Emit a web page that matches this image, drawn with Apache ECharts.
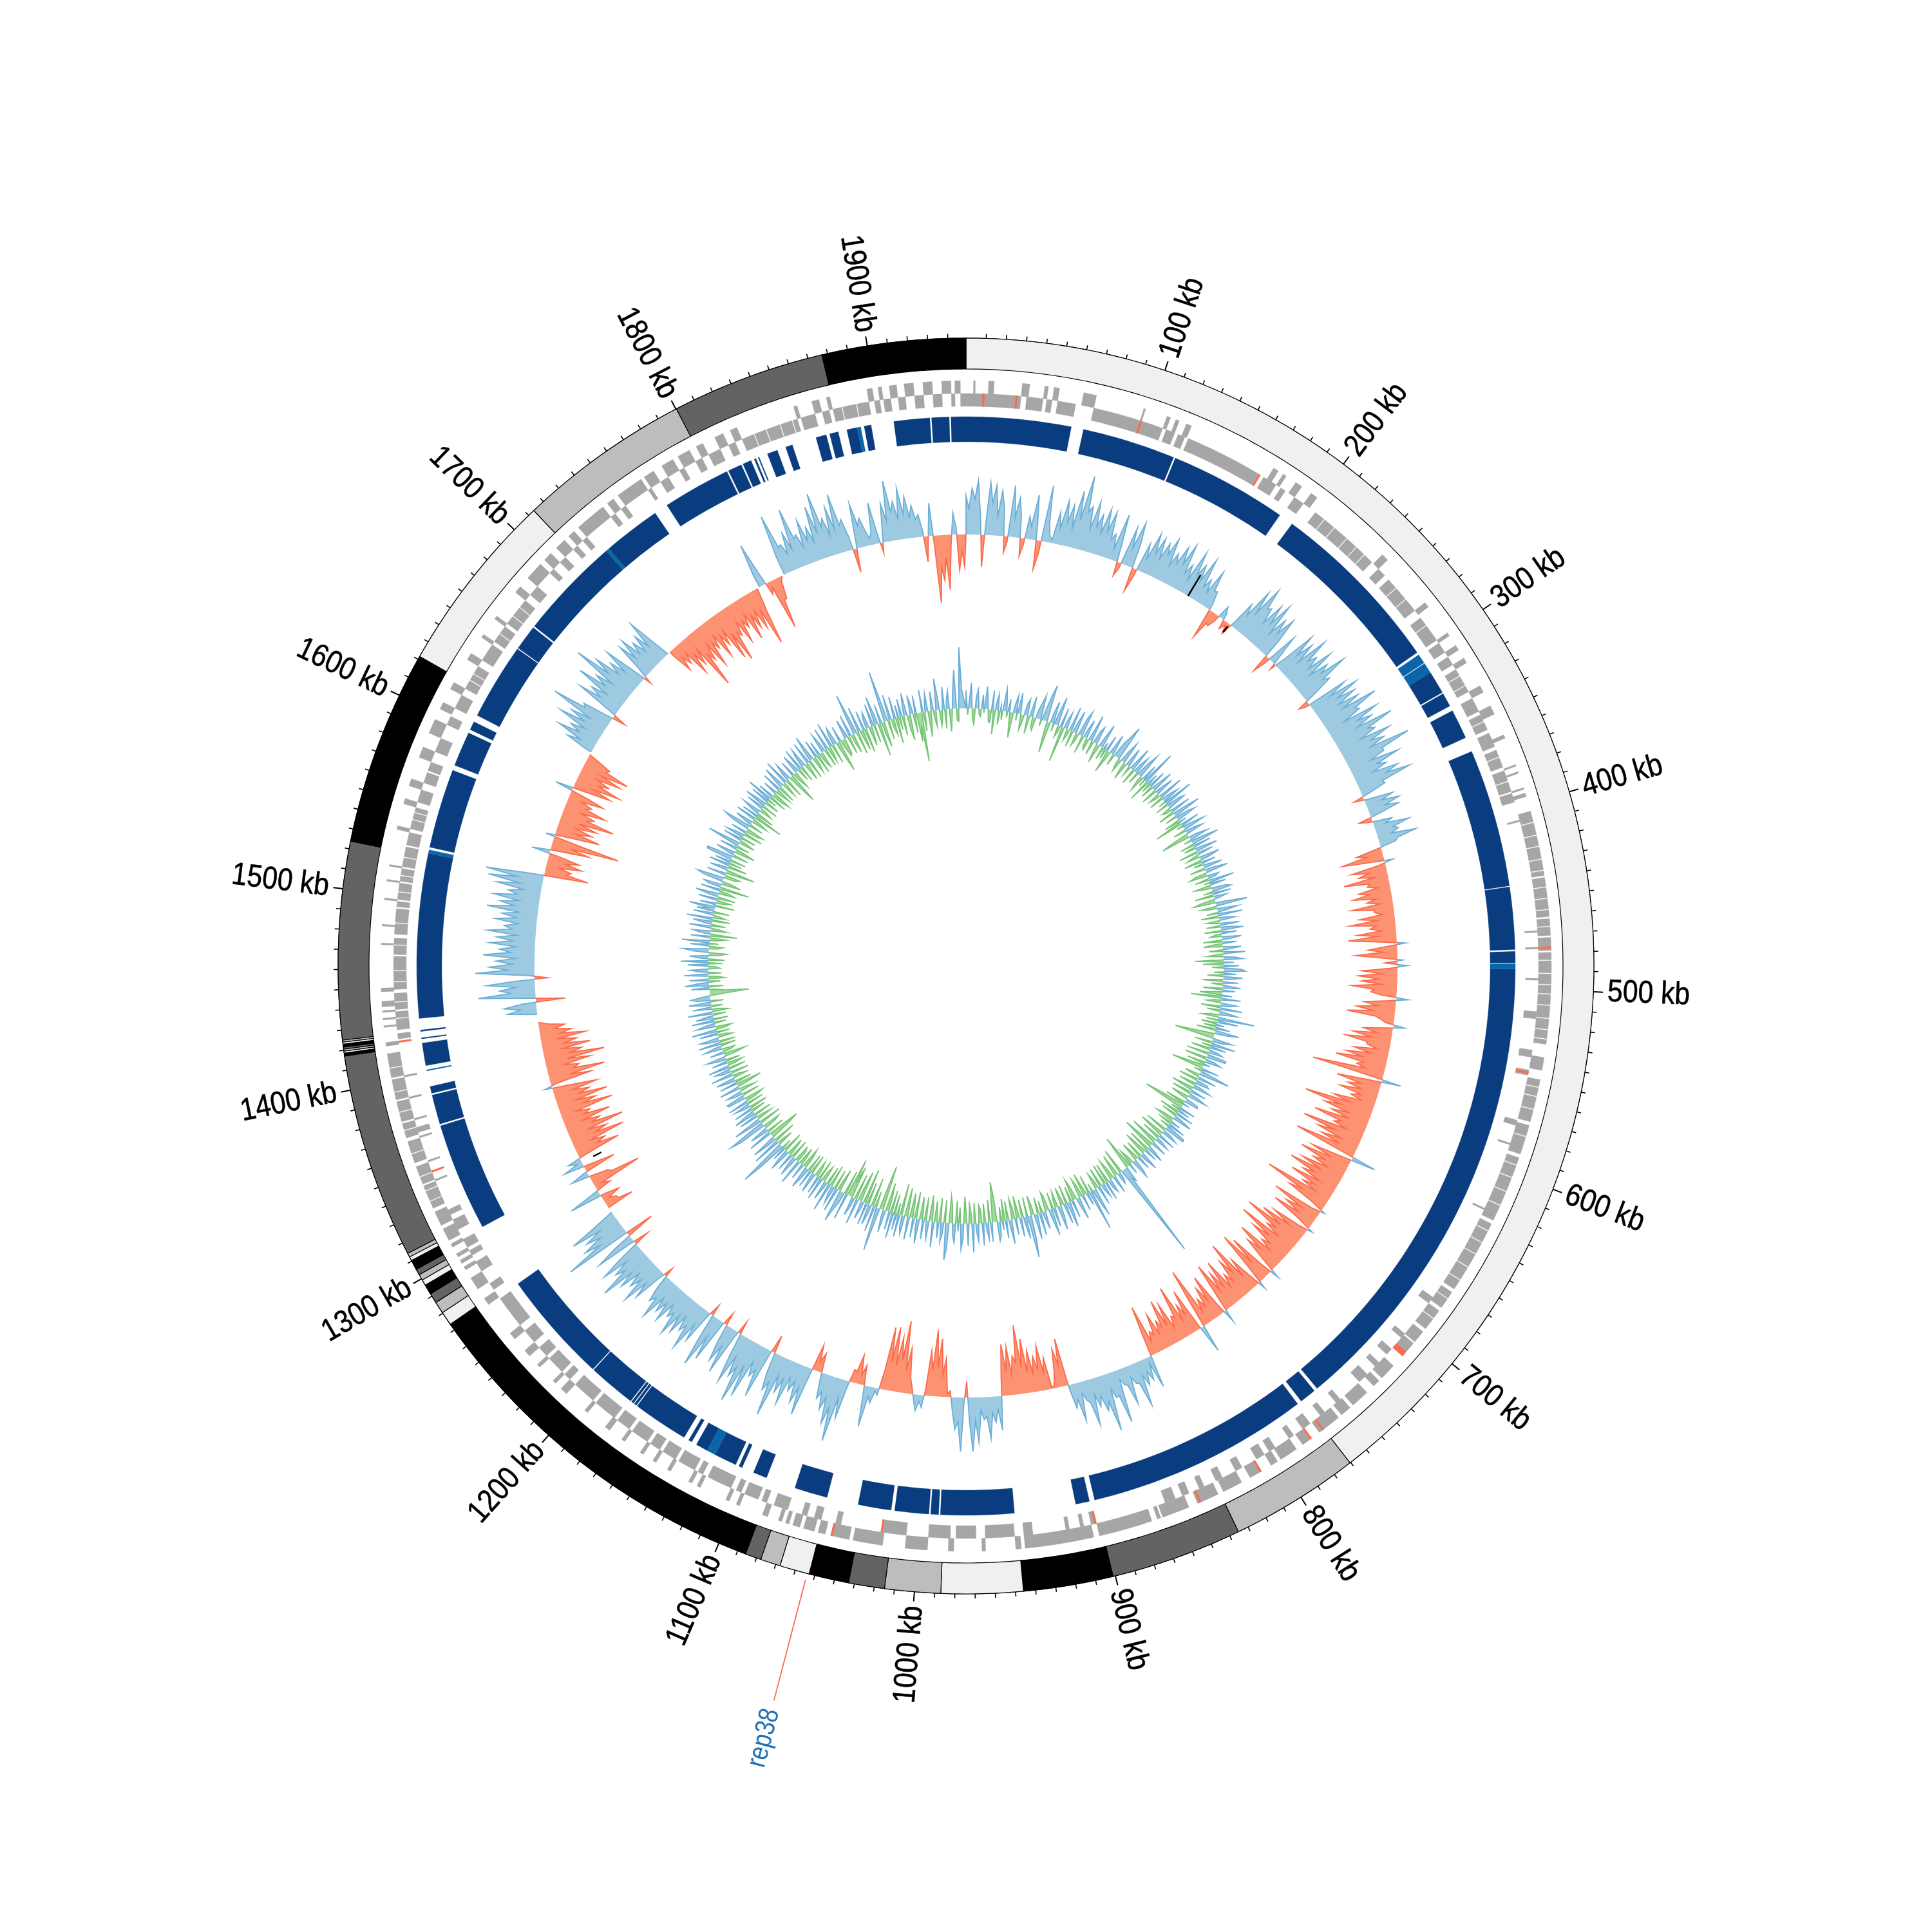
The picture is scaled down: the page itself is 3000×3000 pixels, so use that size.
<!DOCTYPE html>
<html><head><meta charset="utf-8">
<style>html,body{margin:0;padding:0;background:#fff}#c{width:3000px;height:3000px}</style>
<script src="https://cdn.jsdelivr.net/npm/echarts@6/dist/echarts.min.js"></script>
</head><body><div id="c"></div>
<script>
const genomeKb = 1949;
const readingKb = 1953;
const readKb = k => k*genomeKb/readingKb;
const binKb = 2;
const tickLabels = ["100 kb","200 kb","300 kb","400 kb","500 kb","600 kb","700 kb","800 kb","900 kb","1000 kb","1100 kb","1200 kb","1300 kb","1400 kb","1500 kb","1600 kb","1700 kb","1800 kb","1900 kb"];
const tickPositions = [100,200,300,400,500,600,700,800,900,1000,1100,1200,1300,1400,1500,1600,1700,1800,1900];
const ringBreaks = [0,772,837,903,948,989,1017,1035,1055,1070,1080,1088,1276,1283,1289,1294,1299,1302,1305,1308,1313,1315,1317,1420,1421.5,1422.5,1423.5,1424.5,1426,1427,1428,1527,1625,1717,1804,1881,1953];
const ringColors = ["#f0f0f0","#bdbdbd","#636363","#000000"];
const geneOuter = [[4,5],[12,15],[30,34],[42,44],[47,50],[63,70],[96,97],[109,111],[114,116],[120,123],[172,175],[178,180],[186,190],[196,200],[246,250],[280,283],[300,302],[308,311],[316,319],[333,337],[345,350],[362,364],[379,380],[383,384],[392,393],[395,397],
[405,440],[441,462],[463,472],[473,478],[479,480],[481,530],[537,544],[549,572],[574,590],[592,628],[630,670],[672,682],[684,696],[698,705],[706,715],[722,731],[733,737],[742,752],[754,760],[762,775],[781,786],[790,800],[802,806],[812,819],[824,835],[838,850],[855,870],[871,873],[876,905],[908,945],[947,950],
[966,968],[983,986],[997,1009],[1021,1037],[1039,1049],[1052,1056],[1058,1064],[1066,1070],[1072,1074],[1076,1078],[1084,1087],[1100,1102],[1106,1108],[1123,1125],[1128,1130],[1141,1143],[1150,1152],[1158,1160],[1170,1172],[1180,1183],[1195,1197],[1210,1214],[1218,1220],[1230,1232],[1238,1242],[1250,1254],[1273,1277],[1283,1290],[1295,1297],[1299,1301],[1303,1305],[1309,1311],[1313,1320],
[1322,1330],[1332,1345],[1346,1356],[1358,1370],[1372,1380],[1381,1392],[1393,1404],[1405,1418],[1422,1424],[1432,1433],[1436,1437],[1440,1441],[1443,1446],[1451,1453],[1476,1477],[1486,1487],[1500,1501],[1510,1511],[1518,1519],[1538,1540],[1552,1555],[1562,1566],[1578,1584],[1592,1600],[1606,1610],[1618,1622],[1636,1640],[1650,1652],[1662,1664],[1680,1684],[1690,1700],[1703,1708],[1712,1718],[1721,1725],[1728,1745],[1748,1752],[1755,1770],[1772,1778],[1783,1790],[1793,1800],[1804,1808],[1815,1820],[1824,1828],[1860,1862],[1870,1874],[1878,1880],[1900,1903],[1906,1908],[1912,1916],[1920,1925],[1930,1935],[1940,1945],[1947,1950]];
const geneInner = [[0,30],[33,42],[44,47],[50,60],[70,97],[97,109],[111,116],[118,122],[124,167],[170,178],[181,184],[190,196],[204,245],[250,255],[258,280],[285,300],[302,308],[311,316],[319,333],[337,345],[347,356],[358,366],[368,378],[380,392],[393,398],
[408,409],[469,470],[478,479],[495,496],[513,517],[534,538],[545,548],[573,576],[586,587],[624,625],[680,684],[705,708],[716,720],[726,729],[735,741],[755,758],[766,769],[776,781],[787,790],[799,803],[806,811],[820,824],[832,836],[843,846],[852,856],[860,866],[905,908],[912,914],[920,922],[940,945],
[950,966],[971,982],[985,997],[1009,1022],[1045,1048],[1056,1060],[1064,1067],[1075,1083],[1087,1090],[1092,1100],[1102,1105],[1108,1122],[1125,1128],[1130,1140],[1142,1150],[1152,1158],[1160,1170],[1172,1180],[1182,1195],[1197,1210],[1214,1218],[1220,1230],[1232,1238],[1242,1250],[1254,1272],[1278,1282],[1290,1296],[1300,1303],[1305,1310],[1316,1322],[1325,1328],[1345,1346],[1356,1357],[1370,1371],[1373,1376],[1380,1381],[1392,1393],[1404,1405],
[1425,1428],[1430,1440],[1441,1450],[1452,1470],[1471,1480],[1482,1496],[1497,1500],[1501,1510],[1511,1518],[1519,1530],[1531,1538],[1540,1552],[1555,1562],[1566,1572],[1573,1578],[1584,1592],[1600,1605],[1610,1618],[1622,1636],[1640,1650],[1652,1662],[1664,1680],[1684,1690],[1700,1703],[1708,1712],[1718,1721],[1725,1728],[1745,1748],[1752,1755],[1770,1772],[1778,1783],[1790,1793],[1800,1804],[1808,1815],[1820,1824],[1828,1860],[1862,1870],[1874,1878],[1880,1900],[1903,1906],[1908,1912],[1916,1920],[1925,1930],[1935,1940],[1945,1947],[1950,1953]];
const geneAccentOuter = [[478,479],[712,715],[772,773],[780,781],[812,813],[848,849],[1048,1049]];
const geneAccentInner = [[9,10],[27,28],[96,97],[167,168],[546,547],[905,906],[1022,1023],[1350,1351],[1423,1424]];
const geneHairOuter = [411,418,424,431,437,446,452,458,467,485,492,498,503,509,516,522,527,553,558,565,580,596,603,611,619,634,641,648,656,664,676,689,1336,1342,1350,1363,1376,1386,1397,1410];
const geneHairInner = [210,217,226,233,239,264,272,290,323,329,351,372,386,1436,1445,1456,1462,1476,1488,1505,1514,1524,1545,1549,1627,1631,1657,1669,1675,1835,1842,1850,1857,1885,1893];
const cdsDark = [[1912,1932.5],[1933.5,1943.5],[1944.5,1953],[0,60],[67,120.5],[121.5,189],[197.5,299.5],[313,326.2],[327,335],[338,355],[363.5,442.7],[443.3,479],[480,486.5],[490,761],[763,772.5],[775,903],[906,914],[949,991],[992,996.5],[997.5,1017],[1019,1038],[1056,1075],[1092,1100],[1107,1109],[1111,1124],[1129,1136],[1139,1141],[1144,1176],[1176.6,1178],[1178.6,1180],[1180.6,1208],[1208.6,1273],[1311,1373],[1374,1391],[1392,1396],[1408,1421],[1423.4,1424],[1427.6,1428.4],[1435,1529],[1532.5,1578],[1581,1601],[1603,1608],[1612,1656],[1656.6,1671],[1672,1731],[1733,1766],[1774,1813],[1814,1822],[1823,1828],[1830,1831],[1832.4,1833],[1838,1844],[1849,1853],[1867,1873],[1875,1880],[1885,1891],[1895,1899]];
const cdsLight = [[301,306.5],[307,313],[487,490],[1124,1129],[1405,1405.6],[1529,1531],[1731,1733],[1891,1893]];
const outerValues = [
60,72,84,-50,82,78,70,-25,80,62,-28,35,70,-45,88,10,50,70,65,90,116,70,80,62,74,
72,40,75,-22,60,72,-37,45,66,62,58,70,50,66,74,45,72,55,70,40,60,30,-48,-22,20,
-15,-18,45,75,88,60,72,80,60,68,-30,50,-10,70,62,80,55,75,60,85,50,-17,65,80,70,
70,95,60,85,70,100,65,85,70,108,60,80,55,70,86,40,-16,45,52,48,-20,30,55,35,60,
25,-40,-65,13,-55,-45,-70,-35,-50,-60,-40,-65,-30,-55,-70,-40,-60,-75,13,-45,-65,8,16,-55,-60,
-55,-70,-40,18,-50,-60,-75,-20,18,-45,-60,-70,-35,-55,-65,-80,-45,-113,30,-70,-50,-60,-40,-65,-109,
-75,-60,-85,-50,-97,-70,-60,-99,39,-65,-80,-55,-70,-86,-60,-75,-50,-108,-65,6,-80,-55,-70,8,-60,
-75,-98,-55,-97,-70,-45,-80,-60,14,-75,-88,12,-55,-90,-65,-45,-75,-60,-80,20,-70,-55,-40,-96,44,
-70,-50,-85,-40,-65,-75,-45,-60,-35,-80,51,35,40,70,30,60,25,83,40,90,55,45,72,30,60,
38,-75,-60,-5,-50,-70,-55,-65,-85,-107,-60,-75,-80,53,40,65,35,70,84,-25,84,50,-10,-60,-90,
-103,-70,19,25,-10,-70,-112,-85,-100,-98,10,25,64,-31,-45,-20,60,100,75,55,40,-30,-41,77,60,
45,70,55,98,60,-28,80,50,90,103,65,80,-21,75,60,-20,70,86,-18,55,75,50,60,70,45,
60,50,68,45,-15,55,70,50,60,87,55,70,-25,65,-46,106,70,60,79,0,-44,-20,-30,51,-25,
-80,-30,29,-50,32,21,-70,-50,-85,-60,-90,-55,-75,-45,-85,-60,-82,-55,-70,12,-65,-89,-50,-70,-94,
-60,-75,-55,-70,-50,-40,0,0,45,50,-46,89,55,75,-20,92,70,60,80,55,70,60,75,50,65,
55,80,60,72,50,70,85,91,-69,-40,-55,-50,29,-60,-106,14,-70,-55,-60,-85,-50,-65,-40,-55,28,
-60,-72,-50,-65,-75,-40,0,45,66,50,75,60,98,50,-21,70,55,85,60,104,75,55,70,-12,60,
65,50,55,73,0,-41,-35,-60,-50,-96,-55,-70,-45,-65,-50,-80,-88,-50,-65,-45,-70,-55,-60,-91,0,
70,-20,-80,-35,0,96,45,60,95,50,70,55,85,103,60,75,93,50,-37,70,45,10,65,-16,60,
94,60,80,65,50,35,-40,51,-105,-70,-85,34,-55,-50];
const outerBetween = [
40,55,30,20,50,30,45,-8,30,35,-10,20,25,-20,30,5,25,38,30,45,60,35,42,33,40,
30,18,30,-8,28,40,-12,22,35,30,42,28,35,40,28,22,35,30,25,20,28,10,-20,-10,10,
-5,5,28,40,55,35,42,30,38,32,-10,18,20,35,30,42,35,30,45,40,20,-6,35,42,38,
40,55,30,48,42,55,38,50,45,60,35,42,30,48,38,15,5,25,28,18,-6,18,28,22,30,
-5,-25,-30,-10,-28,-22,-30,-20,-35,-25,-20,-30,-18,-28,-30,-22,-30,-32,-18,-22,-30,-20,-12,-25,-30,
-25,-35,-22,-15,-28,-35,-30,-12,-15,-25,-30,-38,-20,-28,-40,-35,-30,-45,-25,-30,-28,-25,-22,-40,-50,
-35,-30,-40,-28,-45,-30,-28,-40,-15,-30,-38,-28,-35,-42,-28,-32,-25,-45,-20,-15,-30,-28,-22,-15,-28,
-38,-42,-28,-40,-32,-25,-38,-28,-20,-30,-35,-20,-25,-40,-30,-25,-32,-30,-35,-15,-30,-25,-20,-40,-5,
-32,-25,-35,-22,-30,-32,-25,-28,-20,-30,10,20,22,32,18,28,15,38,25,42,30,25,35,18,25,
5,-35,-25,-2,-28,-35,-30,-32,-40,-50,-32,-38,-30,20,25,30,20,35,40,10,38,22,-5,-35,-45,
-40,-10,10,8,-25,-35,-50,-40,-45,-30,5,15,10,-15,-18,8,30,48,35,28,10,-15,10,35,28,
25,32,30,45,35,5,38,28,40,48,35,38,10,32,30,5,32,40,5,30,38,28,32,35,25,
30,28,35,25,10,30,32,28,35,40,30,35,8,30,10,45,38,32,35,0,-22,-10,-8,10,-12,
-35,-5,5,-12,8,-15,-35,-28,-40,-30,-42,-30,-35,-25,-40,-30,-38,-30,-32,-10,-32,-40,-28,-35,-42,
-32,-35,-28,-32,-25,-15,0,5,25,22,15,38,30,35,10,42,35,30,38,30,35,30,38,28,32,
30,38,32,35,28,35,40,20,-35,-22,-28,-20,-10,-30,-45,-25,-32,-28,-30,-40,-28,-32,-22,-28,-20,
-30,-35,-28,-32,-35,-20,10,25,32,28,35,30,45,12,10,35,30,40,32,48,35,30,30,15,32,
32,28,30,35,-8,-20,-18,-28,-25,-42,-28,-32,-25,-30,-28,-38,-42,-28,-32,-25,-32,-28,-30,-40,20,
18,-10,-35,-8,30,42,28,32,45,28,35,30,40,48,32,38,42,22,10,35,25,20,15,20,32,
45,32,38,32,28,10,5,-25,-50,-35,-15,10,-25];
const innerValues = [
28,-10,12,40,-15,-25,18,30,-8,-12,22,-6,35,14,-18,-20,30,-38,10,25,-22,8,-14,35,18,-9,20,-16,-39,12,28,-11,33,8,-24,-12,18,26,-28,6,32,-15,-20,12,25,38,-10,14,40,58,
-20,-49,14,35,-12,22,45,-18,-9,30,-56,12,26,-18,-8,38,-25,15,35,-20,-10,28,40,-28,11,30,-14,-18,42,9,-22,20,28,-12,-30,16,38,-20,10,-16,25,-36,-14,32,12,-18,24,36,56,-10,
-20,18,35,-9,-28,30,12,-15,8,38,-25,14,28,-18,22,40,-10,-24,26,-12,55,-34,18,-14,28,-20,12,35,-25,10,30,-18,-8,40,-22,15,28,-11,48,-20,22,30,-15,-9,32,-25,16,44,-18,20,
32,-25,12,-44,30,-10,18,35,-20,16,28,-25,-46,14,30,-12,20,44,-22,28,-18,10,35,-30,25,-8,-20,32,14,-28,22,-15,8,30,-24,16,36,-18,-28,18,12,-22,40,-9,25,-26,-14,22,30,-15,
28,-30,20,8,-22,-34,18,49,-25,-10,32,14,-18,38,-28,10,25,-20,-8,30,-22,16,35,-26,24,-10,-18,30,12,-30,22,-14,-30,28,10,-22,34,-8,-25,18,30,-45,16,-32,24,-18,28,34,-15,20,
-25,30,12,-32,24,-18,8,28,-30,20,-12,-35,16,-48,30,-10,-22,25,14,-30,35,-20,10,28,-14,-26,57,-18,32,-25,12,-20,22,-30,38,18,-28,-62,-20,30,16,-28,38,-15,25,-30,12,22,-35,30,
30,-35,14,25,-28,10,-18,-51,28,-12,20,48,-24,-8,30,-30,18,22,-26,12,28,-35,-10,25,-30,14,30,-28,-12,20,22,-32,10,-40,-65,25,-15,18,-32,28,-25,12,30,-18,-30,16,-22,28,-14,33,
33,-35,14,25,-40,-12,28,-30,10,22,-45,-15,25,-18,-52,10,28,-35,20,-14,-38,30,12,-28,22,-10,-30,18,30,-12,-25,16,-53,-20,25,18,155,30,-40,12,18,-35,-10,28,-18,-32,22,14,-30,30,
-32,22,10,-30,30,-14,-25,45,18,-12,64,-28,20,-10,-35,25,-18,-30,35,12,-20,-34,28,-24,14,40,-30,32,-10,-28,18,38,-25,-12,30,-26,42,14,-22,-30,28,10,-18,36,-25,12,40,-14,-30,38,
66,-30,35,12,-28,30,-12,-35,25,-18,-32,38,10,-30,28,-34,14,-22,22,30,-40,-62,-18,30,-35,25,10,-30,35,-20,-28,28,14,-32,45,-16,-30,35,-12,-42,25,40,-25,12,-35,30,18,-28,-42,40,
58,-35,16,30,-38,25,-12,-32,40,-20,-40,28,12,-36,30,-15,-35,38,14,-42,30,-20,-38,35,-12,-45,28,18,-50,35,-18,25,-30,40,-35,28,-20,-45,35,12,-70,-30,68,20,-25,40,-45,14,32,-35,
35,-55,12,28,-48,-20,40,-40,14,30,-50,-22,-60,42,-38,18,30,51,-35,-12,38,-30,28,14,-34,45,-28,10,30,-25,-15,35,-30,28,-14,-25,32,12,-30,28,-28,16,35,-20,-32,25,-12,-28,40,-20,
-25,32,14,-30,28,-12,-28,35,18,-32,22,-15,45,77,-25,-8,45,-35,18,40,-30,-51,-15,38,-28,12,30,-20,-28,45,61,-35,14,45,-25,-10,30,-28,35,16,-22,30,-28,10,25,-26,32,-18,-30,28,
30,-28,14,25,-26,-10,32,-18,-40,28,-25,12,30,-22,-10,35,-28,16,25,-26,33,-12,-24,24,-22,14,30,-20,-35,22,-14,-20,28,12,-24,35,-25,18,30,-22,-12,28,-20,39,-15,-25,30,14,-18,35,
-22,28,10,-20,39,-25,-12,30,-18,14,35,-20,22,30,12,-20,-61,-25,-10,28,-22,38,16,-18,30,-25,-12,38,-20,14,28,-18,-10,32,-22,43,-25,12,30,-18,-28,25,40,-15,-22,30,-14,43,-12,-25,
30,-42,14,28,-25,-10,35,-22,12,30,-28,41,-20,-8,32,-24,28,10,41,-30,25,-12,-22,30,-28,14,36,-25,-15,30,-46,20,28,-30,-14,32,43,-18,-25,30,-12,-46,28,10,-30,32,-20,25,-24,42,
42,-25,12,30,-33,-14,28,-20,15,52,-25,-10,30,-22,28,12,-30,25,-18,-28,30,44,-22,10,28,-25,-12,32,-46,25,-28,14,30,-20,-10,28,-25,35,12,-22,30,-14,41,-28,25,-18,-30,22,-10,-25,
30,-28,12,35,-24,-10,40,-30,14,28,-22,-49,25,-15,-28,30,12,-20,35,-25,16,30,-28,-12,35,-30,18,41,-25,-14,28,-30,22,-18,-25,30,14,-28,35,-24,-12,40,-30,18,28,-22,-49,25,-12,-28,
-25,30,12,-28,35,-14,-30,65,18,-35,40,-12,-32,30,-38,16,25,-30,-10,35,-28,45,14,-52,30,-18,-40,80,25,-30,40,-14,-25,35,-40,20,-20,28,-30,14,35,-25,-40,30,12,-30,28,-45,-20,-77,
35,-30,12,28,-40,-18,30,-10,-25,49,18,-25,-12,35,-30,14,28,-35,-10,30,60,-18,-20,95,30];
const blackMarks = [[168,0,38],[204,-4,-16],[1318,-20,-34]];
const repLabel = "rep38";
const repKb = 1056;

const R = {outer:975, ringIn:927, oOut:909, oMid:889, iIn:869, cdsOut:853, cdsIn:814, track1:670, track2:400, major:15, minor:7};

function interleave(a,b){const o=[];a.forEach((v,i)=>{o.push(v);if(i<a.length-1)o.push(i<b.length?b[i]:0);});return o;}
function band(api,k0,k1,r0,r1){
  const n=Math.max(1,Math.ceil((k1-k0)/3)), pts=[];
  for(let i=0;i<=n;i++){const c=api.coord([r1,k0+(k1-k0)*i/n]);pts.push([c[0],c[1]]);}
  for(let i=n;i>=0;i--){const c=api.coord([r0,k0+(k1-k0)*i/n]);pts.push([c[0],c[1]]);}
  return pts;
}
function bandSeries(items,r0,r1,fill,stroke,lw){
  return {type:'custom',coordinateSystem:'polar',silent:true,animation:false,clip:false,
    data:items.map(d=>[readKb(d[0]),readKb(d[1])]),
    renderItem(p,api){
      return {type:'polygon',shape:{points:band(api,api.value(0),api.value(1),r0,r1)},
        style:{fill:fill,stroke:stroke||fill,lineWidth:stroke?(lw||1):0.3}};
    }};
}
function signedRuns(vals){
  const runs=[];let cur=null;const step=readKb(binKb);
  for(let i=0;i<vals.length;i++){
    const v=vals[i],k=i*step,s=Math.sign(v);
    if(cur&&s!==cur.s){
      let cross=k;
      if(s!==0&&cur.s!==0){cross=k-step+step*Math.abs(vals[i-1])/(Math.abs(vals[i-1])+Math.abs(v));}
      if(cur.s!==0){cur.p.push([cross,0]);runs.push(cur);}
      cur=s!==0?{s:s,p:[[cross,0]]}:{s:0,p:[]};
    }else if(!cur){cur=s!==0?{s:s,p:[[k,0]]}:{s:0,p:[]};}
    if(s!==0)cur.p.push([k,v]);
  }
  if(cur&&cur.s!==0){cur.p.push([genomeKb,0]);runs.push(cur);}
  return runs;
}
function trackSeries(vals,base,posFill,posLine,negFill,negLine,lw){
  const runs=signedRuns(vals);
  return {type:'custom',coordinateSystem:'polar',silent:true,animation:false,clip:false,
    data:runs.map((r,i)=>[i,i]),
    renderItem(p,api){
      const run=runs[api.value(0)];
      const top=run.p.map(q=>{const c=api.coord([base+q[1],q[0]]);return [c[0],c[1]];});
      const k0=run.p[0][0],k1=run.p[run.p.length-1][0],under=[];
      const n=Math.max(1,Math.ceil((k1-k0)/3));
      for(let i=n;i>=0;i--){const c=api.coord([base,k0+(k1-k0)*i/n]);under.push([c[0],c[1]]);}
      const pos=run.s>0;
      return {type:'group',children:[
        {type:'polygon',shape:{points:top.concat(under)},style:{fill:pos?posFill:negFill,stroke:null}},
        {type:'polyline',shape:{points:top},style:{fill:null,stroke:pos?posLine:negLine,lineWidth:lw}}
      ]};
    }};
}
function hairSeries(list,r0,r1){
  return bandSeries(list.map(k=>[k,k+0.35]),r0,r1,'#ffffff');
}
const ringItems=ringBreaks.slice(0,-1).map((b,i)=>[readKb(b),readKb(ringBreaks[i+1]),i%4]);
const tickItems=[];
for(let k=10;k<genomeKb;k+=10){tickItems.push([k,k%100===0?1:0]);}

const series=[
  {type:'custom',coordinateSystem:'polar',silent:true,animation:false,clip:false,
   data:ringItems,
   renderItem(p,api){
     return {type:'polygon',shape:{points:band(api,api.value(0),api.value(1),R.ringIn,R.outer)},
       style:{fill:ringColors[api.value(2)],stroke:'#000',lineWidth:1.2}};
   }},
  {type:'custom',coordinateSystem:'polar',silent:true,animation:false,clip:false,
   data:tickItems,
   renderItem(p,api){
     const k=api.value(0),a=api.coord([R.outer,k]),b=api.coord([R.outer+(api.value(1)?R.major:R.minor),k]);
     return {type:'line',shape:{x1:a[0],y1:a[1],x2:b[0],y2:b[1]},style:{stroke:'#000',lineWidth:api.value(1)?2:1.6}};
   }},
  bandSeries(geneOuter,R.oMid,R.oOut,'#a6a6a6'),
  bandSeries(geneInner,R.iIn,R.oMid,'#a6a6a6'),
  hairSeries(geneHairOuter,R.oMid,R.oOut),
  hairSeries(geneHairInner,R.iIn,R.oMid),
  bandSeries(geneAccentOuter,R.oMid,R.oOut,'#fb6a4a'),
  bandSeries(geneAccentInner,R.iIn,R.oMid,'#fb6a4a'),
  bandSeries(cdsDark,R.cdsIn,R.cdsOut,'#0a3d7f'),
  bandSeries(cdsLight,R.cdsIn,R.cdsOut,'#0a66a8'),
  trackSeries(interleave(outerValues,outerBetween),R.track1,'#9ecae1','#6baed6','#fc9272','#fb6a4a',1.8),
  trackSeries(innerValues,R.track2,'#9ecae1','#6baed6','#a1d99b','#74c476',1.8),
  {type:'custom',coordinateSystem:'polar',silent:true,animation:false,clip:false,
   data:blackMarks.map(m=>[readKb(m[0]),m[1],m[2]]),
   renderItem(p,api){
     const a=api.coord([R.track1+api.value(1),api.value(0)]),b=api.coord([R.track1+api.value(2),api.value(0)]);
     return {type:'line',shape:{x1:a[0],y1:a[1],x2:b[0],y2:b[1]},style:{stroke:'#000',lineWidth:2.5}};
   }},
  {type:'custom',coordinateSystem:'polar',silent:true,animation:false,clip:false,
   data:tickPositions.map((k,i)=>[k,i]),
   renderItem(p,api){
     const k=api.value(0),c=api.coord([R.outer+22,k]),th=k/genomeKb*360,right=th<180;
     return {type:'text',x:c[0],y:c[1],scaleX:0.87,rotation:(right?90-th:270-th)*Math.PI/180,
       style:{text:tickLabels[api.value(1)],font:'49px "Liberation Sans"',fill:'#000',stroke:'#000',lineWidth:0.6,align:right?'left':'right',verticalAlign:'middle'}};
   }},
  {type:'custom',coordinateSystem:'polar',silent:true,animation:false,clip:false,
   data:[[readKb(repKb),0]],
   renderItem(p,api){
     const k=api.value(0),a=api.coord([R.outer+10,k]),b=api.coord([R.outer+204,k]),t=api.coord([R.outer+218,k]),th=k/genomeKb*360;
     return {type:'group',children:[
       {type:'line',shape:{x1:a[0],y1:a[1],x2:b[0],y2:b[1]},style:{stroke:'#fb6a4a',lineWidth:1.8}},
       {type:'text',x:t[0],y:t[1],scaleX:0.84,rotation:(270-th)*Math.PI/180,
        style:{text:repLabel,font:'43px "Liberation Sans"',fill:'#2171b5',align:'right',verticalAlign:'middle'}}
     ]};
   }}
];
const chart=echarts.init(document.getElementById('c'),null,{renderer:'canvas',width:3000,height:3000});
chart.setOption({
  animation:false,backgroundColor:'#fff',
  polar:{center:[1500,1500],radius:[0,R.outer]},
  angleAxis:{type:'value',min:0,max:genomeKb,startAngle:90,clockwise:true,
    axisLine:{show:true,lineStyle:{color:'#000',width:1.2}},
    axisTick:{show:false},minorTick:{show:false},
    axisLabel:{show:false},splitLine:{show:false},minorSplitLine:{show:false}},
  radiusAxis:{type:'value',min:0,max:R.outer,show:false,axisLine:{show:false},axisTick:{show:false},axisLabel:{show:false},splitLine:{show:false}},
  series:series
});
</script></body></html>
